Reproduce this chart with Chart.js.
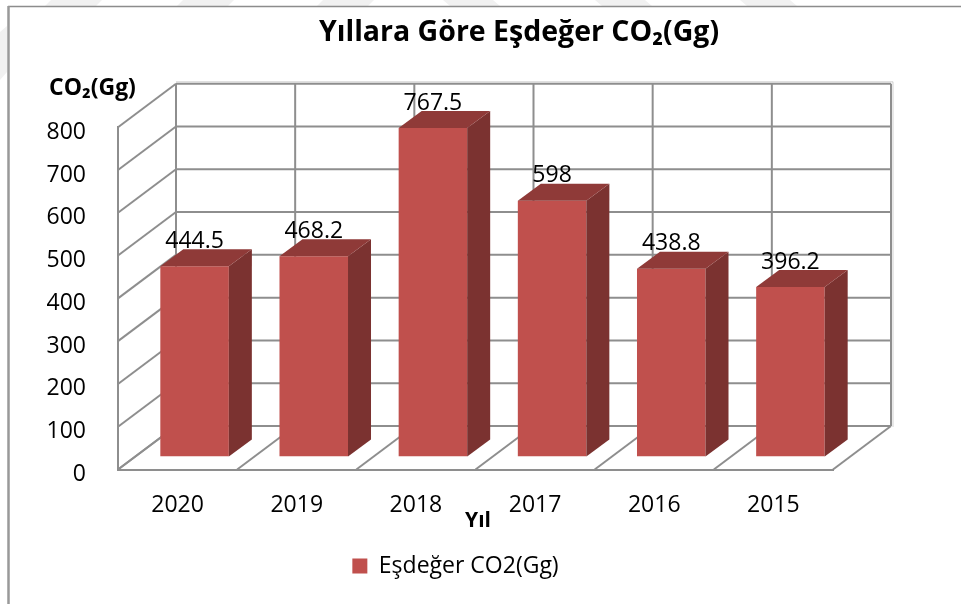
<!DOCTYPE html>
<html lang="tr"><head><meta charset="utf-8">
<style>html,body{margin:0;padding:0;background:#fff}#w{width:961px;height:604px}canvas{display:block}</style>
<script src="https://cdn.jsdelivr.net/npm/chart.js@4"></script></head>
<body><div id="w"><canvas id="c" width="961" height="604"></canvas></div>
<script>
const categories = ['2020','2019','2018','2017','2016','2015'];
const co2Values = [444.5,468.2,767.5,598,438.8,396.2];
const valueLabels = ['444.5','468.2','767.5','598','438.8','396.2'];
const seriesName = 'Eşdeğer CO2(Gg)';
const chartTitle = 'Yıllara Göre Eşdeğer CO₂(Gg)';
const yTitle = 'CO₂(Gg)';
const xTitle = 'Yıl';

const FONT = '"Open Sans"';
const GRID = '#8e8e8e';
const FACE = '#C0504D', SIDE = '#7B3230', TOP = '#8F3A38';
const WALL = {x:58, y:-43.5};      // depth of the plot box
const SHIFT = {x:17, y:-13};       // where the bars stand on the floor
const BAR = {x:23, y:-17};         // depth of a bar

function line(ctx,x1,y1,x2,y2){ctx.beginPath();ctx.moveTo(x1,y1);ctx.lineTo(x2,y2);ctx.stroke();}
function poly(ctx,pts,fill){ctx.beginPath();pts.forEach((p,i)=>i?ctx.lineTo(p[0],p[1]):ctx.moveTo(p[0],p[1]));ctx.closePath();ctx.fillStyle=fill;ctx.fill();}

const box3d = {
  id:'box3d',
  afterLayout(chart){
    const t = chart.titleBlock; if(t){t.left += 102.5; t.right += 102.5;}
    const l = chart.legend; if(l){l.left += 39; l.right += 39; l.adjustHitBoxes();}
  },
  beforeDatasetsDraw(chart){
    const {ctx,scales:{x,y},chartArea:a} = chart;
    ctx.save();
    ctx.strokeStyle = 'rgba(0,0,0,0.12)'; ctx.lineWidth = 1.5;
    line(ctx,a.right+WALL.x+2,a.top+WALL.y-2,a.right+WALL.x+2,a.bottom+WALL.y+1);
    line(ctx,a.left+WALL.x,a.top+WALL.y-2,a.right+WALL.x+2,a.top+WALL.y-2);
    ctx.strokeStyle = GRID; ctx.lineWidth = 2;
    y.ticks.forEach(t=>{
      const py = y.getPixelForValue(t.value);
      line(ctx,a.left,py,a.left+WALL.x,py+WALL.y);
      line(ctx,a.left+WALL.x,py+WALL.y,a.right+WALL.x,py+WALL.y);
    });
    const step = (a.right-a.left)/categories.length;
    for(let i=0;i<=categories.length;i++){
      const px = a.left+i*step;
      line(ctx,px,a.bottom,px+WALL.x,a.bottom+WALL.y);
      line(ctx,px+WALL.x,a.top+WALL.y,px+WALL.x,a.bottom+WALL.y);
    }
    ctx.restore();
    ctx.save();
    ctx.translate(SHIFT.x,SHIFT.y);
  },
  afterDatasetsDraw(chart){
    const {ctx} = chart;
    const meta = chart.getDatasetMeta(0);
    meta.data.forEach(b=>{
      const r = b.x+b.width/2, l = b.x-b.width/2;
      poly(ctx,[[r,b.y],[r+BAR.x,b.y+BAR.y],[r+BAR.x,b.base+BAR.y],[r,b.base]],SIDE);
      poly(ctx,[[l,b.y],[l+BAR.x,b.y+BAR.y],[r+BAR.x,b.y+BAR.y],[r,b.y]],TOP);
    });
    ctx.restore();
    ctx.save();
    ctx.fillStyle = '#000'; ctx.textAlign = 'center'; ctx.textBaseline = 'middle';
    ctx.font = '23px '+FONT;
    meta.data.forEach((b,i)=>ctx.fillText(valueLabels[i],b.x+SHIFT.x,b.y+SHIFT.y-25));
    ctx.font = 'bold 23px '+FONT;
    ctx.textAlign = 'left';
    ctx.fillText(yTitle,49,88);
    ctx.font = 'bold 21px '+FONT;
    ctx.textAlign = 'center';
    ctx.fillText(xTitle,478,521);
    ctx.restore();
  },
  beforeDraw(chart){
    const {ctx} = chart;
    ctx.save();
    // faint watermark bands showing round the chart frame
    const bandStarts = [45,177,317];
    const bandStartsR = [443,595,740];
    ctx.fillStyle = '#f1f1f1';
    bandStarts.forEach(s=>{ctx.beginPath();ctx.moveTo(s+6,0);ctx.lineTo(s+57,0);ctx.lineTo(s+51,6);ctx.lineTo(s,6);ctx.closePath();ctx.fill();});
    bandStartsR.forEach(s=>{ctx.beginPath();ctx.moveTo(s,0);ctx.lineTo(s+50,0);ctx.lineTo(s+57,6);ctx.lineTo(s+7,6);ctx.closePath();ctx.fill();});
    ctx.beginPath();ctx.moveTo(0,32);ctx.lineTo(7,26);ctx.lineTo(7,72);ctx.lineTo(0,80);ctx.closePath();ctx.fill();
    ctx.strokeStyle = '#8c8c8c'; ctx.lineWidth = 1.5;
    line(ctx,8,6.5,961,6.5);
    ctx.strokeStyle = '#999'; ctx.lineWidth = 2.5;
    line(ctx,8.5,6,8.5,604);
    ctx.restore();
  }
};

new Chart(document.getElementById('c'),{
  type:'bar',
  data:{labels:categories,datasets:[{label:seriesName,data:co2Values,backgroundColor:FACE,borderWidth:0,barPercentage:0.575,categoryPercentage:1}]},
  plugins:[box3d],
  options:{
    responsive:false,animation:false,
    layout:{padding:{left:0,top:0,right:128,bottom:16.5}},
    scales:{
      x:{grid:{display:false},border:{display:true,color:GRID,width:2},
         ticks:{color:'#000',font:{family:FONT,size:23},padding:14,maxRotation:0},
         afterFit(s){s.height=75;}},
      y:{min:0,max:800,grid:{display:false},border:{display:true,color:GRID,width:2},
         ticks:{color:'#000',font:{family:FONT,size:23},padding:24,stepSize:100,labelOffset:5},
         afterFit(s){s.width=118;}}
    },
    plugins:{
      title:{display:true,text:chartTitle,color:'#000',font:{family:FONT,size:28.5,weight:'bold'},padding:{top:16,bottom:77}},
      legend:{display:true,position:'bottom',labels:{color:'#000',font:{family:FONT,size:23},boxWidth:15,boxHeight:15,padding:10}},
      tooltip:{enabled:false}
    }
  }
});
</script></body></html>
